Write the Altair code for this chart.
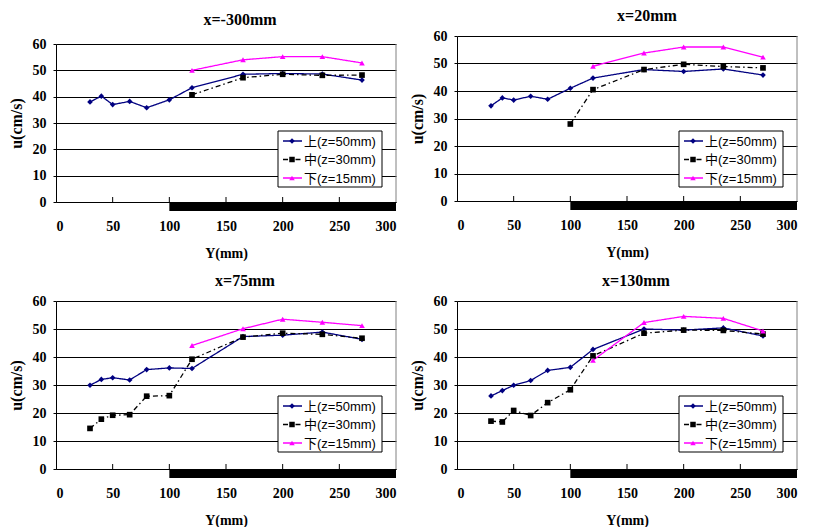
import altair as alt
import pandas as pd

# ---------------- data ----------------
Y_POS = [30, 40, 50, 65, 80, 100, 120, 165, 200, 235, 270]
SERIES = ["上(z=50mm)", "中(z=30mm)", "下(z=15mm)"]
COLORS = ["#000080", "#000000", "#FF00FF"]
SHAPES = ["diamond", "square", "triangle-up"]
DASHES = [[1, 0], [5, 3, 1.5, 3], [1, 0]]
TITLES = ["x=-300mm", "x=20mm", "x=75mm", "x=130mm"]

N = None
# panel x=-300mm
p1_up = [38.0, 40.2, 37.0, 38.2, 35.8, 38.8, 43.4, 48.5, 48.8, 48.6, 46.3]
p1_mid = [N, N, N, N, N, N, 40.7, 47.2, 48.5, 48.1, 48.2]
p1_low = [N, N, N, N, N, N, 50.0, 54.0, 55.2, 55.2, 52.8]
# panel x=20mm
p2_up = [34.6, 37.5, 36.7, 38.1, 37.0, 41.0, 44.7, 47.8, 47.1, 48.0, 45.8]
p2_mid = [N, N, N, N, N, 28.0, 40.5, 47.8, 49.7, 48.9, 48.4]
p2_low = [N, N, N, N, N, N, 49.0, 53.8, 56.0, 56.0, 52.3]
# panel x=75mm
p3_up = [29.9, 32.0, 32.6, 31.8, 35.5, 36.1, 35.9, 47.3, 47.8, 48.9, 46.3]
p3_mid = [14.5, 17.8, 19.2, 19.4, 26.0, 26.2, 39.2, 47.1, 48.5, 48.1, 46.7]
p3_low = [N, N, N, N, N, N, 44.1, 50.1, 53.5, 52.4, 51.2]
# panel x=130mm
p4_up = [26.1, 28.0, 29.9, 31.6, 35.2, 36.3, 42.7, 50.0, 49.6, 50.4, 47.5]
p4_mid = [17.1, 16.8, 20.9, 19.1, 23.7, 28.3, 40.4, 48.5, 49.6, 49.5, 48.2]
p4_low = [N, N, N, N, N, N, 38.8, 52.3, 54.5, 53.8, 49.3]

Y_TICKS = [0, 10, 20, 30, 40, 50, 60]
X_TICKS = [0, 50, 100, 150, 200, 250, 300]
X_INNER_TICKS = [50, 100, 150, 200, 250]
BAR_START = [100]
BAR_END = [300]

SERIF = "Liberation Serif"
SANS = "Liberation Sans, Noto Sans CJK SC"
W = 340


def make_panel(title, up, mid, low, H, top_gap, title_offset, title_dx, leg_top):
    rows = []
    for name, vals in zip(SERIES, [up, mid, low]):
        for y, v in zip(Y_POS, vals):
            if v is not None:
                rows.append({"Y": y, "u": v, "series": name})
    df = pd.DataFrame(rows)

    xs = alt.Scale(domain=[0, 300], nice=False, zero=True)
    ys = alt.Scale(domain=[0, 60], nice=False, range=[H, top_gap])
    x_axis = alt.Axis(values=X_TICKS, tickCount=7, grid=False, tickSize=0,
                      labelPadding=17, titlePadding=13, labelOverlap=False,
                      domainColor="black", format="d",
                      labelFont=SERIF, labelFontSize=14, labelFontWeight="bold",
                      labelColor="black", titleFont=SERIF, titleFontSize=14,
                      titleFontWeight="bold", titleColor="black")
    y_axis = alt.Axis(values=Y_TICKS, tickCount=7, grid=True, gridColor="black",
                      gridOpacity=1, gridWidth=1, tickSize=3, tickColor="black",
                      labelPadding=7, titlePadding=8, labelOverlap=False,
                      domainColor="black", format="d",
                      labelFont=SERIF, labelFontSize=14, labelFontWeight="bold",
                      labelColor="black", titleFont=SERIF, titleFontSize=16,
                      titleFontWeight="bold", titleColor="black")
    xenc = alt.X("Y:Q", scale=xs, title="Y(mm)", axis=x_axis)
    yenc = alt.Y("u:Q", scale=ys, title="u(cm/s)", axis=y_axis)
    col = alt.Color("series:N", scale=alt.Scale(domain=SERIES, range=COLORS), legend=None)

    lines = alt.Chart(df).mark_line(strokeWidth=1.3).encode(
        x=xenc, y=yenc, color=col,
        strokeDash=alt.StrokeDash("series:N", scale=alt.Scale(domain=SERIES, range=DASHES), legend=None),
        detail="series:N",
    )
    pts = alt.Chart(df).mark_point(filled=True, opacity=1, size=32).encode(
        x=xenc, y=yenc, color=col,
        shape=alt.Shape("series:N", scale=alt.Scale(domain=SERIES, range=SHAPES), legend=None),
    )
    bar_df = pd.DataFrame({"Y": BAR_START, "Y2": BAR_END})
    bar = alt.Chart(bar_df).mark_rect(color="black").encode(
        x=xenc, x2="Y2:Q", y=alt.value(H + 1), y2=alt.value(H + 9)
    )
    tick_df = pd.DataFrame({"Y": X_INNER_TICKS})
    ticks = alt.Chart(tick_df).mark_rule(color="black", strokeWidth=1).encode(
        x=xenc, y=alt.value(H), y2=alt.value(H - 5)
    )
    one = pd.DataFrame({"a": [0]})
    border = alt.Chart(one).mark_rule(color="#808080", strokeWidth=1).encode(
        x=alt.value(W), y=alt.value(top_gap), y2=alt.value(H)
    )
    L = 222
    box = alt.Chart(one).mark_rect(fill="white", stroke="black", strokeWidth=1).encode(
        x=alt.value(L), x2=alt.value(L + 104), y=alt.value(leg_top), y2=alt.value(leg_top + 56)
    )
    legend_layers = [box]
    for i, (name, c, shp) in enumerate(zip(SERIES, COLORS, SHAPES)):
        yy = leg_top + 10 + i * 18.5
        legend_layers.append(
            alt.Chart(one).mark_rule(color=c, strokeWidth=1.3,
                                     strokeDash=DASHES[i]).encode(
                x=alt.value(L + 5), x2=alt.value(L + 24), y=alt.value(yy))
        )
        legend_layers.append(
            alt.Chart(one).mark_point(shape=shp, filled=True, opacity=1, size=30, color=c).encode(
                x=alt.value(L + 14), y=alt.value(yy))
        )
        legend_layers.append(
            alt.Chart(one).mark_text(align="left", baseline="middle", font=SANS,
                                     fontSize=13, color="black").encode(
                x=alt.value(L + 26), y=alt.value(yy + 0.5), text=alt.value(name))
        )

    return alt.layer(lines, pts, bar, ticks, border, *legend_layers).properties(
        width=W, height=H,
        title=alt.TitleParams(title, font=SERIF, fontSize=16, fontWeight="bold",
                              color="black", offset=title_offset, dx=title_dx,
                              anchor="middle"),
    )


# row 1: shared origin; panel 1's plot starts 8px lower
c1 = make_panel(TITLES[0], p1_up, p1_mid, p1_low, 166, 8, 8, 14, 95)
c2 = make_panel(TITLES[1], p2_up, p2_mid, p2_low, 165, 0, 5, 20, 95)
c3 = make_panel(TITLES[2], p3_up, p3_mid, p3_low, 168, 0, 5, 19, 95)
c4 = make_panel(TITLES[3], p4_up, p4_mid, p4_low, 168, 0, 5, 9, 95)

chart = alt.vconcat(
    alt.hconcat(c1, c2, spacing=12),
    alt.hconcat(c3, c4, spacing=12),
    spacing=13,
).properties(
    padding={"left": 0, "top": 0, "right": 0, "bottom": 0},
    background="white",
).configure_view(stroke=None)

chart.save("out.html", embed_options={"renderer": "svg", "actions": False})
